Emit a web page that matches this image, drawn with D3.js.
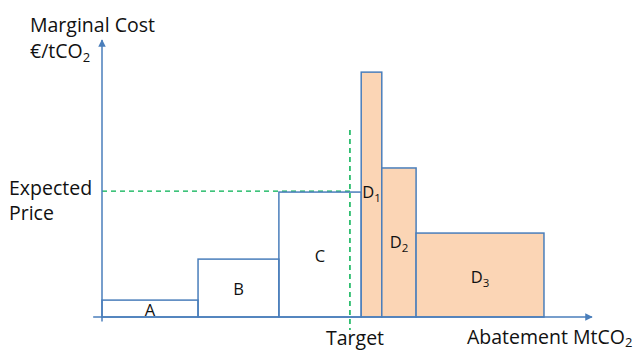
<!DOCTYPE html>
<html>
<head>
<meta charset="utf-8">
<script src="https://cdn.jsdelivr.net/npm/d3@7"></script>
<style>
  html, body { margin: 0; padding: 0; background: #fff; }
  svg { display: block; }
  text { font-family: "Open Sans", Lato, sans-serif; fill: #111; }
</style>
</head>
<body>
<div id="chart"></div>
<script>
// Abatement options and their marginal cost blocks
const categories = ["A", "B", "C", "D1", "D2", "D3"];
const widths     = [19.6, 16.5, 16.8, 4.2, 7.0, 26.1];   // abatement, MtCO2
const costs      = [6.1, 20.9, 45.1, 88.4, 53.8, 30.3];  // marginal cost, €/tCO2
const beyondTarget = [false, false, false, true, true, true];
const expectedPrice = 45.1;
const target = 50.6;

const W = 640, H = 351;
const x = d3.scaleLinear().domain([0, 100]).range([102, 592]);
const y = d3.scaleLinear().domain([0, 100]).range([317, 40]);

const blue = "#4a7ebb", peach = "#fbd5b5", green = "#00b050";

const svg = d3.select("#chart").append("svg").attr("width", W).attr("height", H);

const defs = svg.append("defs");
defs.append("marker").attr("id", "arrow")
  .attr("viewBox", "0 0 10 10").attr("refX", 9).attr("refY", 5)
  .attr("markerWidth", 5).attr("markerHeight", 5).attr("orient", "auto")
  .append("path").attr("d", "M0,0 L10,5 L0,10 Z").attr("fill", blue);

// cumulative block positions
let acc = 0;
const blocks = categories.map((c, i) => {
  const b = { name: c, x0: acc, x1: acc + widths[i], cost: costs[i], shaded: beyondTarget[i] };
  acc += widths[i];
  return b;
});

// expected price guide
svg.append("line")
  .attr("x1", x(0)).attr("x2", x(target))
  .attr("y1", y(expectedPrice) - 1).attr("y2", y(expectedPrice) - 1)
  .attr("stroke", green).attr("stroke-width", 1.2).attr("stroke-dasharray", "5,4");

// cost blocks
svg.append("g").selectAll("rect").data(blocks).join("rect")
  .attr("x", d => x(d.x0)).attr("y", d => y(d.cost))
  .attr("width", d => x(d.x1) - x(d.x0)).attr("height", d => y(0) - y(d.cost))
  .attr("fill", d => d.shaded ? peach : "none")
  .attr("stroke", blue).attr("stroke-width", 1.5);

// target line
svg.append("line")
  .attr("x1", x(target)).attr("x2", x(target))
  .attr("y1", y(67.5)).attr("y2", y(-4.7))
  .attr("stroke", green).attr("stroke-width", 1.5).attr("stroke-dasharray", "5,4");

// axes
svg.append("line")
  .attr("x1", x(-1.8)).attr("x2", x(100))
  .attr("y1", y(0)).attr("y2", y(0))
  .attr("stroke", blue).attr("stroke-width", 1.5).attr("marker-end", "url(#arrow)");
svg.append("line")
  .attr("x1", x(0)).attr("x2", x(0))
  .attr("y1", y(-1.6)).attr("y2", y(100))
  .attr("stroke", blue).attr("stroke-width", 1.5).attr("marker-end", "url(#arrow)");

// block labels
const base = { A: 316, B: 295, C: 262, D1: 198, D2: 248, D3: 283 };
const lbl = svg.append("g").attr("font-size", 16.5);
blocks.forEach(b => {
  const cx = (x(b.x0) + x(b.x1)) / 2;
  const t = lbl.append("text").attr("y", base[b.name]);
  if (b.name === "D1") {
    t.attr("x", x(b.x0) + 1).attr("text-anchor", "start");
  } else {
    t.attr("x", cx).attr("text-anchor", "middle");
  }
  if (b.name.length > 1) {
    t.append("tspan").text(b.name[0]);
    t.append("tspan").attr("font-size", 11.5).attr("dy", 4).text(b.name.slice(1));
  } else {
    t.text(b.name);
  }
});

// axis titles
const tt = svg.append("g").attr("font-size", 19.5);
tt.append("text").attr("x", 30).attr("y", 32).text("Marginal Cost");
const u = tt.append("text").attr("x", 30).attr("y", 58);
u.append("tspan").text("€/tCO");
u.append("tspan").attr("font-size", 13).attr("dy", 4).text("2");
tt.append("text").attr("x", 9).attr("y", 195).text("Expected");
tt.append("text").attr("x", 9).attr("y", 220).text("Price");
tt.append("text").attr("x", 326).attr("y", 345).text("Target");
const ab = tt.append("text").attr("x", 467).attr("y", 344);
ab.append("tspan").text("Abatement MtCO");
ab.append("tspan").attr("font-size", 13).attr("dy", 3).text("2");
</script>
</body>
</html>
